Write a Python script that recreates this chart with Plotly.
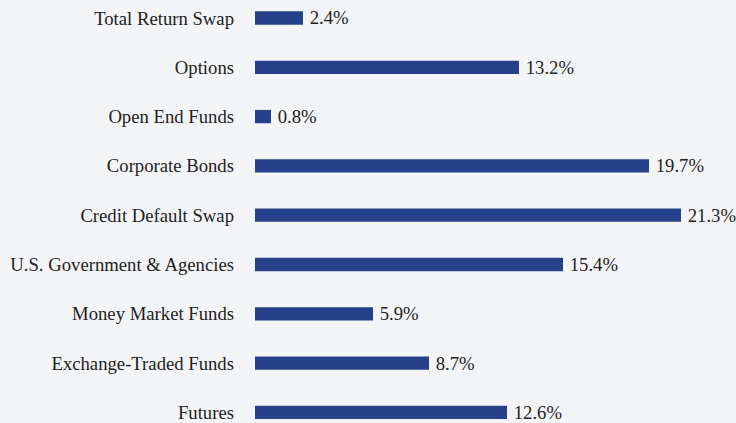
import plotly.graph_objects as go

categories = ["Total Return Swap", "Options", "Open End Funds", "Corporate Bonds",
              "Credit Default Swap", "U.S. Government & Agencies", "Money Market Funds",
              "Exchange-Traded Funds", "Futures"]
values = [2.4, 13.2, 0.8, 19.7, 21.3, 15.4, 5.9, 8.7, 12.6]
labels = [f"\u2009{v:.1f}%" for v in values]

FONT = "Liberation Serif, Times New Roman, serif"
FS = 18.7

fig = go.Figure(go.Bar(
    x=values, y=categories, orientation="h",
    marker=dict(color="#26418a", line=dict(width=0)),
    width=0.27,
    text=labels, textposition="outside", cliponaxis=False, constraintext="none",
    textfont=dict(family=FONT, size=FS, color="#222222"),
    hoverinfo="skip",
))

fig.update_layout(
    width=736, height=423,
    margin=dict(l=255, r=0, t=0, b=0),
    paper_bgcolor="#f3f4f6", plot_bgcolor="#f3f4f6",
    font=dict(family=FONT, size=FS, color="#222222"),
    showlegend=False,
    xaxis=dict(range=[0, 24.05], visible=False, showgrid=False, zeroline=False),
    yaxis=dict(categoryorder="array", categoryarray=categories,
               range=[8.215, -0.365], showgrid=False, zeroline=False,
               showline=False, ticks="", ticklabelstandoff=20,
               tickfont=dict(family=FONT, size=FS, color="#222222")),
)

fig.write_html("out.html")
